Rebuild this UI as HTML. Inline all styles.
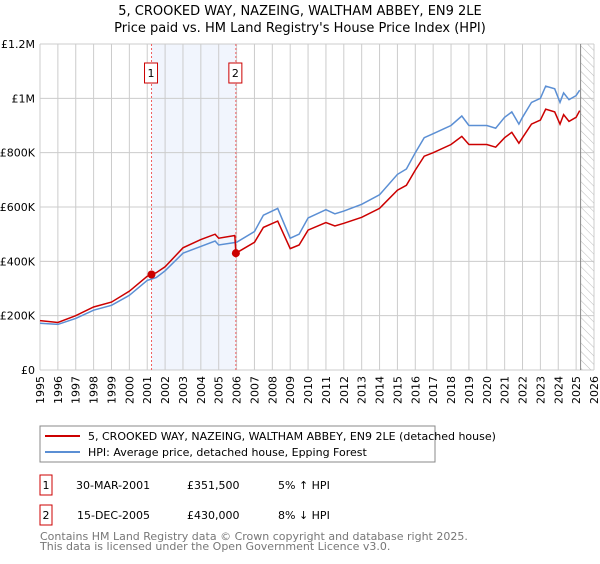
<!DOCTYPE html>
<html><head><meta charset="utf-8"><style>
body{margin:0;background:#fff;font-family:"DejaVu Sans","Liberation Sans",sans-serif;}
svg text{font-family:"DejaVu Sans","Liberation Sans",sans-serif;}
</style></head><body>
<svg id="c" width="600" height="560" viewBox="0 0 600 560">
<defs><pattern id="hatch" width="6" height="6" patternUnits="userSpaceOnUse" patternTransform="rotate(-45)"><line x1="0" y1="0" x2="0" y2="6" stroke="#bbb" stroke-width="1"/></pattern></defs>
<text x="300" y="15" text-anchor="middle" font-size="13" fill="#000">5, CROOKED WAY, NAZEING, WALTHAM ABBEY, EN9 2LE</text>
<text x="300" y="32" text-anchor="middle" font-size="13" fill="#000">Price paid vs. HM Land Registry's House Price Index (HPI)</text>
<g id="grid"></g>
<g id="marks"></g>
<g id="axes"></g>
<rect x="40" y="426" width="395" height="36" fill="#fff" stroke="#888"/>
<line x1="45" y1="436" x2="80" y2="436" stroke="#cc0000" stroke-width="2"/>
<text x="88" y="440" font-size="11">5, CROOKED WAY, NAZEING, WALTHAM ABBEY, EN9 2LE (detached house)</text>
<line x1="45" y1="452" x2="80" y2="452" stroke="#5b8fd4" stroke-width="2"/>
<text x="88" y="456" font-size="11">HPI: Average price, detached house, Epping Forest</text>
<g>
<rect x="40" y="475" width="12" height="20" fill="none" stroke="#cc0000"/><text x="46" y="489" font-size="11" text-anchor="middle">1</text>
<text x="76" y="489" font-size="11">30-MAR-2001</text><text x="187" y="489" font-size="11">£351,500</text><text x="278" y="489" font-size="11">5% ↑ HPI</text></g>
<g>
<rect x="40" y="505" width="12" height="20" fill="none" stroke="#cc0000"/><text x="46" y="519" font-size="11" text-anchor="middle">2</text>
<text x="77" y="519" font-size="11">15-DEC-2005</text><text x="187" y="519" font-size="11">£430,000</text><text x="278" y="519" font-size="11">8% ↓ HPI</text></g>
<text x="40" y="540" font-size="11" fill="#777">Contains HM Land Registry data © Crown copyright and database right 2025.</text>
<text x="40" y="550" font-size="11" fill="#777">This data is licensed under the Open Government Licence v3.0.</text>
</svg>
<script>
const years=[1995,1996,1997,1998,1999,2000,2001,2002,2003,2004,2005,2006,2007,2008,2009,2010,2011,2012,2013,2014,2015,2016,2017,2018,2019,2020,2021,2022,2023,2024,2025,2026];
const yTicks=[0,200000,400000,600000,800000,1000000,1200000];
const yTickLabels=["£0","£200K","£400K","£600K","£800K","£1M","£1.2M"];
const hpiT=[1995,1996,1997,1998,1999,2000,2001,2001.5,2002,2003,2004,2004.8,2005,2006,2007,2007.5,2008.3,2009,2009.5,2010,2011,2011.5,2012,2013,2014,2015,2015.5,2016,2016.5,2017,2018,2018.6,2019,2020,2020.5,2021,2021.4,2021.8,2022,2022.5,2023,2023.3,2023.8,2024.1,2024.3,2024.6,2025,2025.2];
const hpiV=[172,168,190,220,238,275,330,340,365,430,455,475,460,470,510,570,595,485,500,560,590,575,585,610,645,720,740,800,855,870,900,935,900,900,890,930,950,905,930,985,1000,1045,1035,985,1020,995,1010,1030];
const redT=[1995,1996,1997,1998,1999,2000,2001,2001.5,2002,2003,2004,2004.8,2005,2005.9,2005.96,2007,2007.5,2008.3,2009,2009.5,2010,2011,2011.5,2012,2013,2014,2015,2015.5,2016,2016.5,2017,2018,2018.6,2019,2020,2020.5,2021,2021.4,2021.8,2022,2022.5,2023,2023.3,2023.8,2024.1,2024.3,2024.6,2025,2025.2];
const redV=[182,175,200,232,250,290,345,358,380,450,480,500,485,495,430,470,525,548,447,460,515,543,530,540,562,595,662,680,736,787,800,830,860,830,830,820,855,875,835,855,905,920,960,950,905,940,915,930,955];
const saleT=[2001.24,2005.96];
const saleV=[351500,430000];
const saleLabels=["1","2"];
const NS="http://www.w3.org/2000/svg";
const L=40,R=594,T=44,B=370;
const xs=t=>L+(t-1995)/(2026-1995)*(R-L);
const ys=v=>B-v/1200000*(B-T);
function mk(tag,a,p){const e=document.createElementNS(NS,tag);for(const k in a)e.setAttribute(k,a[k]);p.appendChild(e);return e;}
const grid=document.getElementById('grid'),marks=document.getElementById('marks'),axes=document.getElementById('axes');
const shade=mk('rect',{x:xs(saleT[0]),y:T,width:xs(saleT[1])-xs(saleT[0]),height:B-T,fill:'#eef3fd',opacity:0.8},grid);


years.forEach(y=>{const l=mk('line',{x1:xs(y),x2:xs(y),y1:T,y2:B,stroke:'#ccc'},grid);


const tx=mk('text',{x:0,y:0,'font-size':11,'text-anchor':'end',transform:`translate(${xs(y)+4},${B+6}) rotate(-90)`},axes);tx.textContent=y;

});
yTicks.forEach((v,i)=>{const l=mk('line',{x1:L,x2:R,y1:ys(v),y2:ys(v),stroke:'#ccc'},grid);


const tx=mk('text',{x:L-5,y:ys(v)+4,'font-size':11,'text-anchor':'end'},axes);tx.textContent=yTickLabels[i];

});
const hx=xs(2025.25);
const hatch=mk('rect',{x:hx,y:T,width:R-hx,height:B-T,fill:'url(#hatch)'},grid);


const hl=mk('line',{x1:hx,x2:hx,y1:T,y2:B,stroke:'#888'},grid);


saleT.forEach((t,i)=>{const l=mk('line',{x1:xs(t),x2:xs(t),y1:T,y2:B,stroke:'#f06060','stroke-dasharray':'2,2'},marks);


const b=mk('rect',{x:xs(t)-7,y:63,width:13,height:20,fill:'#fff',stroke:'#cc0000'},marks);


const tx=mk('text',{x:xs(t)-0.5,y:77,'font-size':11,'text-anchor':'middle'},marks);tx.textContent=saleLabels[i];

});
const path=(T_,V_)=>T_.map((t,i)=>(i?'L':'M')+xs(t).toFixed(1)+','+ys(V_[i]*1000).toFixed(1)).join('');
const hp=mk('path',{d:path(hpiT,hpiV),fill:'none',stroke:'#5b8fd4','stroke-width':1.5},marks);


const rp=mk('path',{d:path(redT,redV),fill:'none',stroke:'#cc0000','stroke-width':1.5},marks);


saleT.forEach((t,i)=>{const c=mk('circle',{cx:xs(t),cy:ys(saleV[i]),r:4,fill:'#cc0000'},marks);

});
</script>
</body></html>
